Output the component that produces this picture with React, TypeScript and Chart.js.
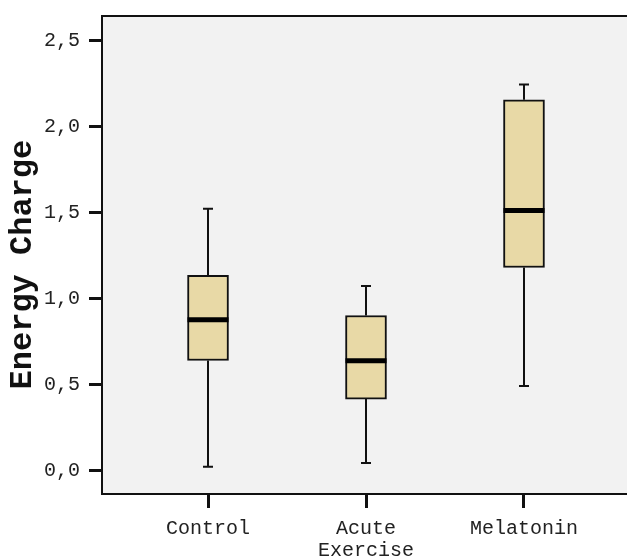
import React, { useEffect, useRef } from 'react';
import { Chart, registerables } from 'chart.js';

Chart.register(...registerables);

const categories = ['Control', 'Acute Exercise', 'Melatonin'];
const whiskerLow = [0.02, 0.042, 0.49];
const q1 = [0.638, 0.414, 1.179];
const median = [0.875, 0.637, 1.51];
const q3 = [1.133, 0.9, 2.154];
const whiskerHigh = [1.52, 1.071, 2.243];
const yTicks = [0, 0.5, 1, 1.5, 2, 2.5];
const yTitle = 'Energy Charge ';

const FONT = "'Liberation Mono', 'Courier New', monospace";
const BOX_FILL = '#e8d9a6';
const PLOT_BG = '#f2f2f2';

const boxPlugin = {
  id: 'boxPlugin',
  beforeDraw(chart: any) {
    const { ctx, chartArea } = chart;
    ctx.save();
    ctx.fillStyle = PLOT_BG;
    ctx.fillRect(chartArea.left, chartArea.top, chartArea.right - chartArea.left, chartArea.bottom - chartArea.top);
    ctx.restore();
  },
  beforeDatasetsDraw(chart: any) {
    const { ctx } = chart;
    const xs = chart.scales.x;
    const ys = chart.scales.y;
    ctx.save();
    ctx.strokeStyle = '#111';
    ctx.lineWidth = 2;
    categories.forEach((_, i) => {
      const x = Math.round(xs.getPixelForValue(i));
      const yLo = ys.getPixelForValue(whiskerLow[i]);
      const yQ1 = ys.getPixelForValue(q1[i]);
      const yQ3 = ys.getPixelForValue(q3[i]);
      const yHi = ys.getPixelForValue(whiskerHigh[i]);
      ctx.beginPath();
      ctx.moveTo(x, yLo);
      ctx.lineTo(x, yQ1);
      ctx.moveTo(x, yQ3);
      ctx.lineTo(x, yHi);
      ctx.moveTo(x - 5, yLo);
      ctx.lineTo(x + 5, yLo);
      ctx.moveTo(x - 5, yHi);
      ctx.lineTo(x + 5, yHi);
      ctx.stroke();
    });
    ctx.restore();
  },
  afterDatasetsDraw(chart: any) {
    const { ctx } = chart;
    const xs = chart.scales.x;
    const ys = chart.scales.y;
    ctx.save();
    ctx.strokeStyle = '#000';
    ctx.lineWidth = 5;
    categories.forEach((_, i) => {
      const x = xs.getPixelForValue(i);
      const y = ys.getPixelForValue(median[i]);
      ctx.beginPath();
      ctx.moveTo(x - 20.5, y);
      ctx.lineTo(x + 20.5, y);
      ctx.stroke();
    });
    ctx.restore();
  },
  afterDraw(chart: any) {
    const { ctx, chartArea } = chart;
    ctx.save();
    ctx.strokeStyle = '#111';
    ctx.lineWidth = 2;
    ctx.beginPath();
    ctx.moveTo(chartArea.left - 1, chartArea.top);
    ctx.lineTo(chartArea.right, chartArea.top);
    ctx.stroke();
    ctx.restore();
  },
};

export default function App() {
  const canvasRef = useRef<HTMLCanvasElement | null>(null);

  useEffect(() => {
    const canvas = canvasRef.current;
    if (!canvas) return;
    const chart = new Chart(canvas, {
      type: 'bar',
      data: {
        datasets: [
          {
            data: categories.map((_, i) => ({ x: i, y: [q1[i], q3[i]] })) as any,
            backgroundColor: BOX_FILL,
            borderColor: '#111',
            borderWidth: 2,
            borderSkipped: false,
            barThickness: 41,
          },
        ],
      },
      options: {
        animation: false,
        responsive: false,
        layout: { padding: { top: 16, right: 0, left: 0, bottom: 0 } },
        plugins: {
          legend: { display: false },
          tooltip: { enabled: false },
        },
        scales: {
          x: {
            type: 'linear',
            offset: false,
            min: -0.671,
            max: 2.652,
            afterBuildTicks: (scale: any) => {
              scale.ticks = categories.map((_, i) => ({ value: i }));
            },
            afterFit: (scale: any) => {
              scale.height = 65;
              scale.paddingLeft = 0;
              scale.paddingRight = 0;
            },
            grid: {
              offset: false,
              drawOnChartArea: false,
              drawTicks: true,
              tickLength: 14,
              tickWidth: 3,
              tickColor: '#111',
            },
            border: { display: true, color: '#111', width: 2 },
            ticks: {
              autoSkip: false,
              maxRotation: 0,
              padding: 10,
              color: '#222',
              font: { family: FONT, size: 20, lineHeight: 1.1 },
              callback: (value: any) => {
                const label = categories[Math.round(Number(value))];
                return label ? label.split(' ') : '';
              },
            },
          },
          y: {
            type: 'linear',
            min: -0.138,
            max: 2.641,
            afterBuildTicks: (scale: any) => {
              scale.ticks = yTicks.map((v) => ({ value: v }));
            },
            afterFit: (scale: any) => {
              scale.width = 102;
              scale.paddingTop = 0;
              scale.paddingBottom = 0;
            },
            grid: {
              drawOnChartArea: false,
              drawTicks: true,
              tickLength: 13,
              tickWidth: 3,
              tickColor: '#111',
            },
            border: { display: true, color: '#111', width: 2 },
            ticks: {
              padding: 9,
              color: '#222',
              font: { family: FONT, size: 20 },
              callback: (value: any) => Number(value).toFixed(1).replace('.', ','),
            },
            title: {
              display: true,
              text: yTitle,
              color: '#111',
              padding: { top: 4, bottom: 0 },
              font: { family: FONT, size: 32, weight: 'bold', lineHeight: 1.2 },
            },
          },
        },
      },
      plugins: [boxPlugin],
    });
    return () => chart.destroy();
  }, []);

  return (
    <div style={{ position: 'absolute', left: 0, top: 0, width: 627, height: 559, background: '#fff' }}>
      <canvas ref={canvasRef} width={627} height={559} style={{ display: 'block' }} />
    </div>
  );
}
